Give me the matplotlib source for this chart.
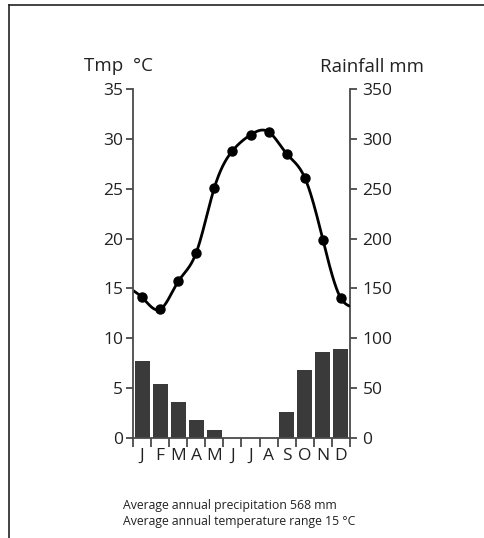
import numpy as np
import matplotlib
matplotlib.use("Agg")
import matplotlib.pyplot as plt
from matplotlib.lines import Line2D

plt.rcParams['font.family'] = ['Open Sans', 'DejaVu Sans']

# climate data
months = ['J', 'F', 'M', 'A', 'M', 'J', 'J', 'A', 'S', 'O', 'N', 'D']
temp = [14.1, 12.9, 15.7, 18.6, 25.1, 28.8, 30.4, 30.7, 28.5, 26.1, 19.9, 14.0]
rain = [77, 54, 36, 18, 8, 0, 0, 0, 26, 68, 86, 89]
# where the curve meets the two side axes
temp_start = 14.8
temp_end = 13.2

temp_ticks = [0, 5, 10, 15, 20, 25, 30, 35]
rain_ticks = [0, 50, 100, 150, 200, 250, 300, 350]
note1 = 'Average annual precipitation 568 mm'
note2 = 'Average annual temperature range 15 \u00b0C'

dark = '#222222'
axcol = '#4a4a4a'


def smooth(x, y, n=400):
    # natural cubic spline through the points, only for drawing the curve
    x = np.asarray(x, float)
    y = np.asarray(y, float)
    k = len(x)
    h = np.diff(x)
    A = np.zeros((k, k))
    b = np.zeros(k)
    A[0, 0] = A[-1, -1] = 1
    for i in range(1, k - 1):
        A[i, i - 1] = h[i - 1]
        A[i, i] = 2 * (h[i - 1] + h[i])
        A[i, i + 1] = h[i]
        b[i] = 6 * ((y[i + 1] - y[i]) / h[i] - (y[i] - y[i - 1]) / h[i - 1])
    m = np.linalg.solve(A, b)
    xs = np.linspace(x[0], x[-1], n)
    j = np.clip(np.searchsorted(x, xs) - 1, 0, k - 2)
    t0 = xs - x[j]
    t1 = x[j + 1] - xs
    hj = h[j]
    ys = (m[j] * t1 ** 3 / (6 * hj) + m[j + 1] * t0 ** 3 / (6 * hj)
          + (y[j] / hj - m[j] * hj / 6) * t1
          + (y[j + 1] / hj - m[j + 1] * hj / 6) * t0)
    return xs, ys


fig = plt.figure(figsize=(4.84, 5.38), dpi=100)
ax = fig.add_axes([133 / 484, 1 - 438 / 538, 217 / 484, 349 / 538])
ax2 = ax.twinx()

x = np.arange(12) + 0.5

# rainfall bars on the right scale
ax2.bar(x, rain, width=0.83, color='#3a3a3a', zorder=2)
ax2.set_ylim(0, 350)
ax2.set_yticks(rain_ticks)

# temperature curve on the left scale, drawn above the bars
ax.set_zorder(ax2.get_zorder() + 1)
ax.patch.set_visible(False)
cx, cy = smooth(np.concatenate([[0], x, [12]]),
                np.concatenate([[temp_start], temp, [temp_end]]))
ax.plot(cx, cy, color='black', lw=2.0, solid_capstyle='butt')
ax.plot(x, temp, 'o', color='black', ms=6.5)
ax.set_ylim(0, 35)
ax.set_xlim(0, 12)
ax.set_yticks(temp_ticks)

ax.set_xticks(np.arange(13))
ax.set_xticklabels([])
ax.set_xticks(x, minor=True)
ax.set_xticklabels(months, minor=True)

for a in (ax, ax2):
    a.spines['top'].set_visible(False)
    for s in ('left', 'right', 'bottom'):
        a.spines[s].set_color(axcol)
        a.spines[s].set_linewidth(1.3)

ax.spines['right'].set_visible(False)
ax2.spines['left'].set_visible(False)
ax2.spines['bottom'].set_visible(False)

ax.tick_params(axis='y', length=5, width=1.3, color=axcol, pad=2,
               labelsize=12.5, labelcolor=dark)
ax2.tick_params(axis='y', length=5, width=1.3, color=axcol, pad=4,
                labelsize=12.5, labelcolor=dark)
ax.tick_params(axis='x', which='major', length=6.5, width=1.3, color=axcol)
ax.tick_params(axis='x', which='minor', length=0, pad=7,
               labelsize=12.5, labelcolor=dark)

fig.text(118 / 484, 1 - 71 / 538, 'Tmp  \u00b0C', ha='center', va='baseline',
         fontsize=13.5, color=dark)
fig.text(320 / 484, 1 - 72 / 538, 'Rainfall mm', ha='left', va='baseline',
         fontsize=13.5, color=dark)

fig.text(123 / 484, 1 - 505 / 538, note1, ha='left', va='center',
         fontsize=8.8, color=dark)
fig.text(123 / 484, 1 - 522 / 538, note2, ha='left', va='center',
         fontsize=8.8, color=dark)

# frame lines at top and left of the picture
fig.add_artist(Line2D([9 / 484, 1], [1 - 5 / 538, 1 - 5 / 538],
                      transform=fig.transFigure, color='#222222', lw=1.2))
fig.add_artist(Line2D([9 / 484, 9 / 484], [0, 1 - 5 / 538],
                      transform=fig.transFigure, color='#222222', lw=1.2))

fig.savefig('out.png', dpi=100)
